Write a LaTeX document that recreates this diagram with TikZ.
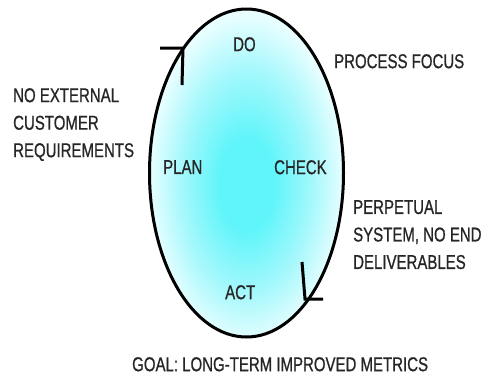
\documentclass[tikz,border=0pt]{standalone}
\usepackage{fontspec}
\setmainfont{Liberation Sans}[FakeStretch=0.75,FakeBold=0.8]
\definecolor{cyanin}{RGB}{95,245,250}
\definecolor{cyanmid}{RGB}{165,248,252}
\definecolor{cyanout}{RGB}{232,254,255}
\pgfdeclareradialshading{pdca}{\pgfpoint{0bp}{-2bp}}{color(0bp)=(cyanin); color(7bp)=(cyanin); color(17bp)=(cyanmid); color(25bp)=(cyanout); color(50bp)=(cyanout)}
\begin{document}
\begin{tikzpicture}[x=1pt,y=-1pt,
  lbl/.style={inner sep=0pt, anchor=north west, align=left, font=\fontsize{20}{27.5}\selectfont, text=black!85},
  cyclemark/.style={line width=3pt, line cap=butt, line join=miter}]
\useasboundingbox (0,0) rectangle (487,378);
\shade[shading=pdca] (246.5,173) ellipse [x radius=97, y radius=164];
\draw[line width=3pt] (246.5,173) ellipse [x radius=97, y radius=164];
% cycle marks
\coordinate (m1a) at (160,48); \coordinate (m1b) at (183,48); \coordinate (m1c) at (182,85);
\draw[cyclemark] (m1a) -- (m1b) -- (m1c);
\coordinate (m2a) at (302,262); \coordinate (m2b) at (305,299); \coordinate (m2c) at (323,299);
\draw[cyclemark] (m2a) -- (m2b) -- (m2c);
% labels
\node[lbl] (do) at (233,37) {DO};
\node[lbl] (plan) at (163,160) {PLAN};
\node[lbl] (check) at (274,160) {CHECK};
\node[lbl] (act) at (225,285) {ACT};
\node[lbl] (noext) at (13,88) {NO EXTERNAL\\CUSTOMER\\REQUIREMENTS};
\node[lbl] (proc) at (334,54) {PROCESS FOCUS};
\node[lbl] (perp) at (353,200) {PERPETUAL\\SYSTEM, NO END\\DELIVERABLES};
\node[lbl] (goal) at (132,357) {GOAL: LONG-TERM IMPROVED METRICS};
\end{tikzpicture}
\end{document}
